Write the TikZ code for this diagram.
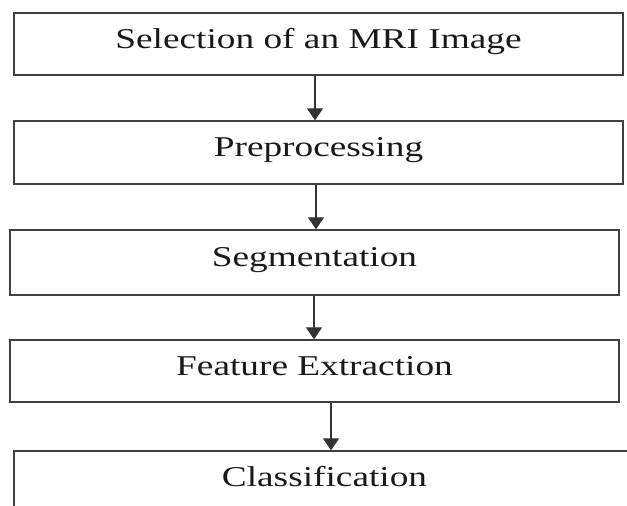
\documentclass[tikz,border=0pt]{standalone}
\usepackage{fontspec}
\setmainfont[FakeStretch=1.3]{Liberation Serif}
\usepackage{tikz}
\usetikzlibrary{arrows.meta}

\begin{document}
\begin{tikzpicture}[x=1pt,y=-1pt,
        stage/.style={draw=black!75,line width=1.3pt,minimum width=609pt,
            text height=20pt,text depth=12pt,inner sep=0pt,
            font=\fontsize{28.7}{34}\selectfont,text=black!90},
        flow/.style={draw=black!80,line width=1.2pt,-{Triangle[length=12pt,width=16pt]}}]
        \useasboundingbox (0,0) rectangle (627,506);
        \node[stage,minimum height=62pt] (sel) at (318.5,44) {Selection of an MRI Image};
        \node[stage,minimum height=63pt] (pre) at (318.5,152.5) {Preprocessing};
        \node[stage,minimum height=65pt] (seg) at (314.5,262.5) {Segmentation};
        \node[stage,minimum height=62pt] (fea) at (314.5,371) {Feature Extraction};
        \node[stage,minimum height=62pt,minimum width=621pt] (cla) at (324.5,482) {Classification};
        \draw[flow] (sel.south -| 315,0) -- (pre.north -| 315,0);
        \draw[flow] (pre.south -| 316,0) -- (seg.north -| 316,0);
        \draw[flow] (seg.south -| 314,0) -- (fea.north -| 314,0);
        \draw[flow] (fea.south -| 331,0) -- (cla.north -| 331,0);
    \end{tikzpicture}
\end{document}
